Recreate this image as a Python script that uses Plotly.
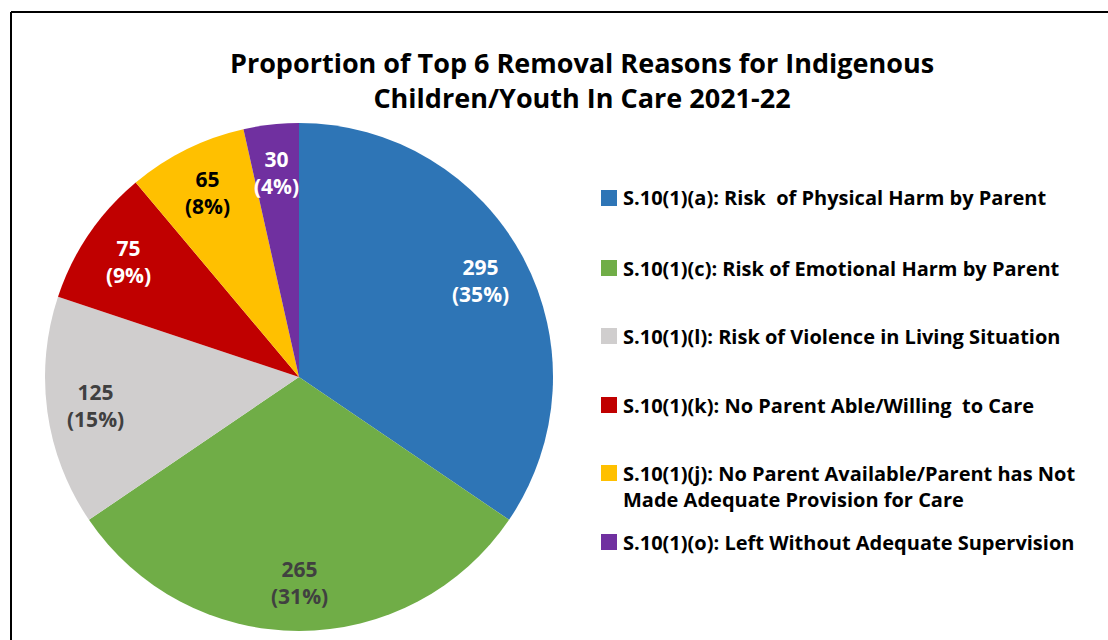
import math
import plotly.graph_objects as go

# Removal reasons and counts (Indigenous children/youth in care, 2021-22)
reasons = [
    "S.10(1)(a): Risk  of Physical Harm by Parent",
    "S.10(1)(c): Risk of Emotional Harm by Parent",
    "S.10(1)(l): Risk of Violence in Living Situation",
    "S.10(1)(k): No Parent Able/Willing  to Care",
    "S.10(1)(j): No Parent Available/Parent has Not<br>Made Adequate Provision for Care",
    "S.10(1)(o): Left Without Adequate Supervision",
]
counts = [295, 265, 125, 75, 65, 30]

slice_colors = ["#2E75B6", "#70AD47", "#D0CECE", "#C00000", "#FFC000", "#7030A0"]
label_colors = ["#FFFFFF", "#404040", "#404040", "#FFFFFF", "#000000", "#FFFFFF"]

W, H = 1108, 640
CX, CY, R = 299, 377, 254          # pie centre and radius in pixels
LABEL_R = 0.81                     # data labels sit at this fraction of the radius
FONT = "Open Sans"

# legend layout (pixels)
LEG_SQ_X = 601
LEG_SQ = 16
LEG_TEXT_X = 621
LEG_Y = [198, 268, 336, 405, 486.5, 542]


def px(x):
    return x / W


def py(y):
    return 1 - y / H


fig = go.Figure(
    go.Pie(
        labels=reasons,
        values=counts,
        sort=False,
        direction="clockwise",
        rotation=0,
        marker=dict(colors=slice_colors, line=dict(width=0)),
        textinfo="none",
        hoverinfo="label+value+percent",
        domain=dict(x=[px(CX - R), px(CX + R)], y=[py(CY + R), py(CY - R)]),
        showlegend=False,
    )
)

annotations = []
shapes = []

# value / percent labels at the middle angle of each slice
total = sum(counts)
cum = 0
for v, col in zip(counts, label_colors):
    mid = (cum + v / 2) / total * 2 * math.pi
    cum += v
    x = CX + LABEL_R * R * math.sin(mid)
    y = CY - LABEL_R * R * math.cos(mid)
    pct = round(v / total * 100)
    annotations.append(
        dict(
            x=px(x), y=py(y), xref="paper", yref="paper",
            text=f"{v}<br>({pct}%)", showarrow=False,
            xanchor="center", yanchor="middle",
            font=dict(family=FONT, size=21, color=col, weight="bold"),
        )
    )

# legend: colour squares with labels
for name, col, ly in zip(reasons, slice_colors, LEG_Y):
    first_line_y = ly - 13.5 if "<br>" in name else ly
    shapes.append(
        dict(
            type="rect", xref="paper", yref="paper",
            x0=px(LEG_SQ_X), x1=px(LEG_SQ_X + LEG_SQ),
            y0=py(first_line_y + LEG_SQ / 2), y1=py(first_line_y - LEG_SQ / 2),
            fillcolor=col, line=dict(width=0),
        )
    )
    annotations.append(
        dict(
            x=px(LEG_TEXT_X), y=py(ly), xref="paper", yref="paper",
            text=name, showarrow=False, align="left",
            xanchor="left", yanchor="middle",
            font=dict(family=FONT, size=20, color="#000000", weight="bold"),
        )
    )

# chart frame (top and left edges)
shapes.append(dict(type="line", xref="paper", yref="paper",
                   x0=px(11), x1=1, y0=py(12), y1=py(12),
                   line=dict(color="#000000", width=2)))
shapes.append(dict(type="line", xref="paper", yref="paper",
                   x0=px(11), x1=px(11), y0=py(12), y1=0,
                   line=dict(color="#000000", width=2)))

fig.update_layout(
    width=W, height=H,
    margin=dict(l=0, r=0, t=0, b=0),
    paper_bgcolor="#FFFFFF",
    plot_bgcolor="#FFFFFF",
    title=dict(
        text="Proportion of Top 6 Removal Reasons for Indigenous<br>Children/Youth In Care 2021-22",
        x=px(582), xanchor="center",
        y=py(73), yanchor="middle",
        font=dict(family=FONT, size=27, color="#000000", weight="bold"),
    ),
    annotations=annotations,
    shapes=shapes,
    showlegend=False,
)

fig.write_html("out.html")
